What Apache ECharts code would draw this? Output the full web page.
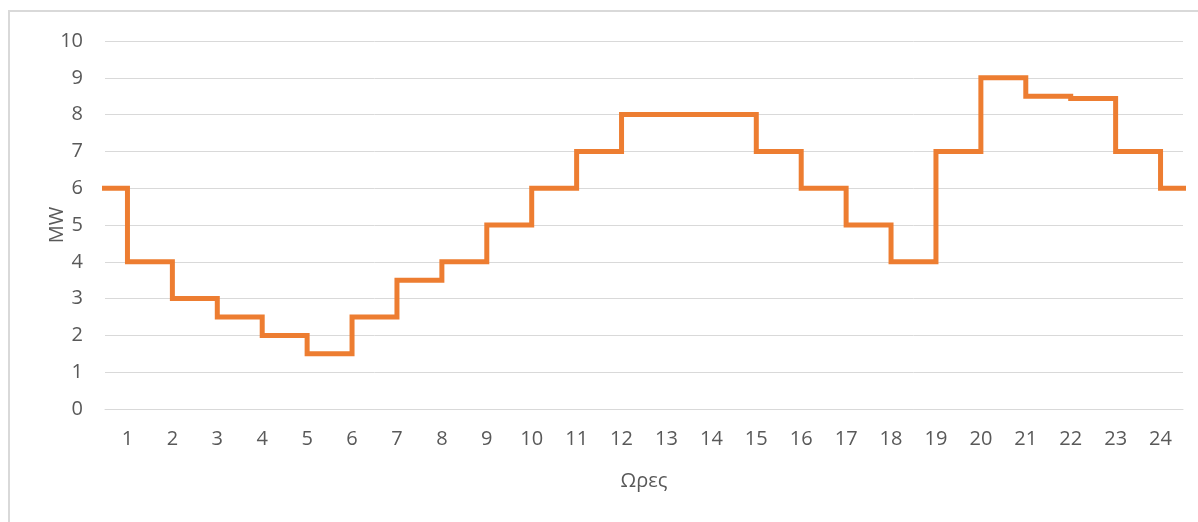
<!DOCTYPE html>
<html>
<head>
<meta charset="utf-8">
<script src="https://cdn.jsdelivr.net/npm/echarts@6/dist/echarts.min.js"></script>
<style>
  html, body { margin: 0; padding: 0; background: #ffffff; }
  #chart { width: 1198px; height: 522px; }
</style>
</head>
<body>
<div id="chart"></div>
<script>
// Hourly load profile of one day (MW); each hour's level holds until the next hour.
const hours = [1, 2, 3, 4, 5, 6, 7, 8, 9, 10, 11, 12, 13, 14, 15, 16, 17, 18, 19, 20, 21, 22, 23, 24];
const loadMW = [4, 3, 2.5, 2, 1.5, 2.5, 3.5, 4, 5, 6, 7, 8, 8, 8, 7, 6, 5, 4, 7, 9, 8.5, 8.44, 7, 6];
const yTicks = { min: 0, max: 10, interval: 1 };

const textColor = '#595959';
const gridColor = '#D9D9D9';
const fontFamily = '"Open Sans", "Noto Sans", sans-serif';

// Daily profile is cyclic: the previous day's last hour leads in, the next day's first hour follows.
const stepData = [[0, loadMW[loadMW.length - 1]]]
  .concat(hours.map((h, i) => [h, loadMW[i]]))
  .concat([[hours[hours.length - 1] + 1, loadMW[0]]]);

const chart = echarts.init(document.getElementById('chart'), null, { renderer: 'canvas' });

chart.setOption({
  animation: false,
  backgroundColor: '#ffffff',
  textStyle: { fontFamily: fontFamily },
  graphic: [{
    type: 'rect',
    shape: { x: 9, y: 11, width: 1400, height: 700 },
    style: { fill: 'none', stroke: gridColor, lineWidth: 2 },
    silent: true,
    z: -1
  }],
  grid: { left: 105, right: 15, top: 41, bottom: 113 },
  xAxis: [{
    type: 'category',
    data: hours,
    boundaryGap: true,
    name: 'Ωρες',
    nameLocation: 'middle',
    nameGap: 62,
    nameMoveOverlap: false,
    nameTextStyle: { color: textColor, fontSize: 20, fontFamily: fontFamily },
    axisLine: { show: true, lineStyle: { color: gridColor, width: 1 } },
    axisTick: { show: false },
    axisLabel: { color: textColor, fontSize: 20, margin: 20, fontFamily: fontFamily },
    splitLine: { show: false }
  }, {
    type: 'value',
    min: 0.5,
    max: 24.5,
    show: false,
    splitLine: { show: false }
  }],
  yAxis: {
    type: 'value',
    min: yTicks.min,
    max: yTicks.max,
    interval: yTicks.interval,
    name: 'MW',
    nameLocation: 'middle',
    nameGap: 38,
    nameMoveOverlap: false,
    nameRotate: 90,
    nameTextStyle: { color: textColor, fontSize: 20, fontFamily: fontFamily },
    axisLine: { show: false },
    axisTick: { show: false },
    axisLabel: { color: textColor, fontSize: 20, margin: 22, fontFamily: fontFamily },
    splitLine: { show: true, lineStyle: { color: gridColor, width: 1 } }
  },
  series: [{
    type: 'line',
    xAxisIndex: 1,
    data: stepData,
    step: 'end',
    clip: true,
    showSymbol: false,
    symbol: 'none',
    lineStyle: { color: '#ED7D31', width: 5, join: 'miter', cap: 'butt' }
  }]
});
</script>
</body>
</html>
